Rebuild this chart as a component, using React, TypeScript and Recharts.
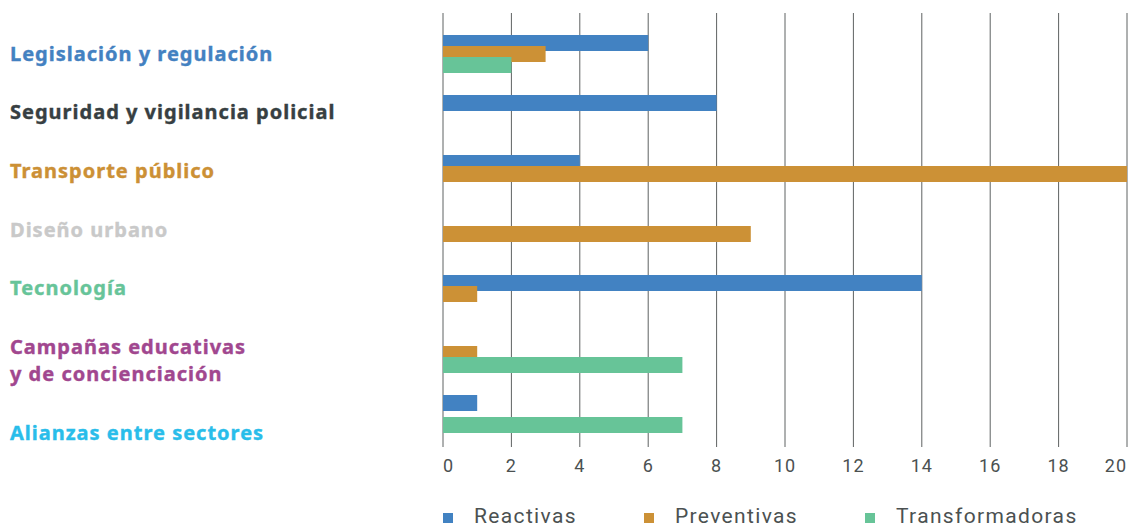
import React from 'react';
import { BarChart, Bar, XAxis, YAxis, CartesianGrid, Legend } from 'recharts';

const categories = [
  'Legislación y regulación',
  'Seguridad y vigilancia policial',
  'Transporte público',
  'Diseño urbano',
  'Tecnología',
  'Campañas educativas\ny de concienciación',
  'Alianzas entre sectores',
];
const categoryColors = ['#4381c1', '#373f42', '#cc9035', '#c9c9c9', '#67c499', '#a1478f', '#29bdea'];

const reactivas = [6, 8, 4, 0, 14, 0, 1];
const preventivas = [3, 0, 20, 9, 1, 1, 0];
const transformadoras = [2, 0, 0, 0, 0, 7, 7];

const seriesNames = ['Reactivas', 'Preventivas', 'Transformadoras'];
const seriesColors = ['#4282c2', '#cc9136', '#67c498'];
const xTicks = [0, 2, 4, 6, 8, 10, 12, 14, 16, 18, 20];

const data = categories.map((name, i) => ({
  name,
  Reactivas: reactivas[i],
  Preventivas: preventivas[i],
  Transformadoras: transformadoras[i],
}));

const LABEL_TOP = 39.5;
const LINE_H = 27;
const ITEM_GAP = 31.7;

const linesOf = (s: string) => s.split('\n');

const YTick = (props: any) => {
  const value: string = props.payload.value;
  const idx = categories.indexOf(value);
  let top = LABEL_TOP;
  for (let i = 0; i < idx; i++) top += linesOf(categories[i]).length * LINE_H + ITEM_GAP;
  const lines = linesOf(value);
  return (
    <g>
      {lines.map((ln, k) => (
        <text
          key={k}
          x={10}
          y={top + LINE_H / 2 + k * LINE_H}
          dominantBaseline="central"
          textAnchor="start"
          fontFamily="'Noto Sans', sans-serif"
          fontWeight={700}
          fontSize={20}
          letterSpacing={1.0}
          fill={categoryColors[idx]}
          stroke={categoryColors[idx]}
          strokeWidth={0.4}
        >
          {ln}
        </text>
      ))}
    </g>
  );
};

const XTick = (props: any) => {
  const v = props.payload.value;
  const anchor = v === xTicks[0] ? 'start' : v === xTicks[xTicks.length - 1] ? 'end' : 'middle';
  return (
    <text
      x={props.payload.coordinate}
      y={465}
      dominantBaseline="central"
      textAnchor={anchor}
      fontFamily="Roboto, sans-serif"
      fontSize={18}
      letterSpacing={1}
      fill="#4b5151"
    >
      {v}
    </text>
  );
};

const LegendContent = () => (
  <div style={{ display: 'flex', paddingLeft: 443, paddingTop: 14, alignItems: 'center' }}>
    {seriesNames.map((n, i) => (
      <div key={n} style={{ display: 'flex', alignItems: 'center', marginRight: 67 }}>
        <div style={{ width: 10, height: 10, background: seriesColors[i], marginRight: 21, marginTop: 4 }} />
        <span
          style={{
            fontFamily: 'Roboto, sans-serif',
            fontSize: 21,
            letterSpacing: 1.35,
            color: '#4b5151',
            lineHeight: '20px',
          }}
        >
          {n}
        </span>
      </div>
    ))}
  </div>
);

export default function App() {
  return (
    <div style={{ position: 'absolute', left: 0, top: 0, width: 1130, height: 527, background: '#fff' }}>
      <BarChart
        width={1130}
        height={527}
        data={data}
        layout="vertical"
        margin={{ top: 13, right: 3, bottom: 0, left: 0 }}
        barSize={16}
        barGap={-5}
      >
        <CartesianGrid horizontal={false} vertical={true} stroke="#5e6262" strokeWidth={1} />
        <XAxis
          type="number"
          domain={[0, 20]}
          ticks={xTicks}
          axisLine={false}
          tickLine={false}
          height={45}
          tick={<XTick />}
          interval={0}
        />
        <YAxis
          type="category"
          dataKey="name"
          width={443}
          axisLine={false}
          tickLine={false}
          tick={<YTick />}
          interval={0}
          padding={{ top: 11, bottom: 3 }}
        />
        <Legend
          verticalAlign="bottom"
          content={<LegendContent />}
          wrapperStyle={{ height: 35, left: 0, width: 1130 }}
        />
        {seriesNames.map((n, i) => (
          <Bar key={n} dataKey={n} fill={seriesColors[i]} isAnimationActive={false} />
        ))}
      </BarChart>
    </div>
  );
}
